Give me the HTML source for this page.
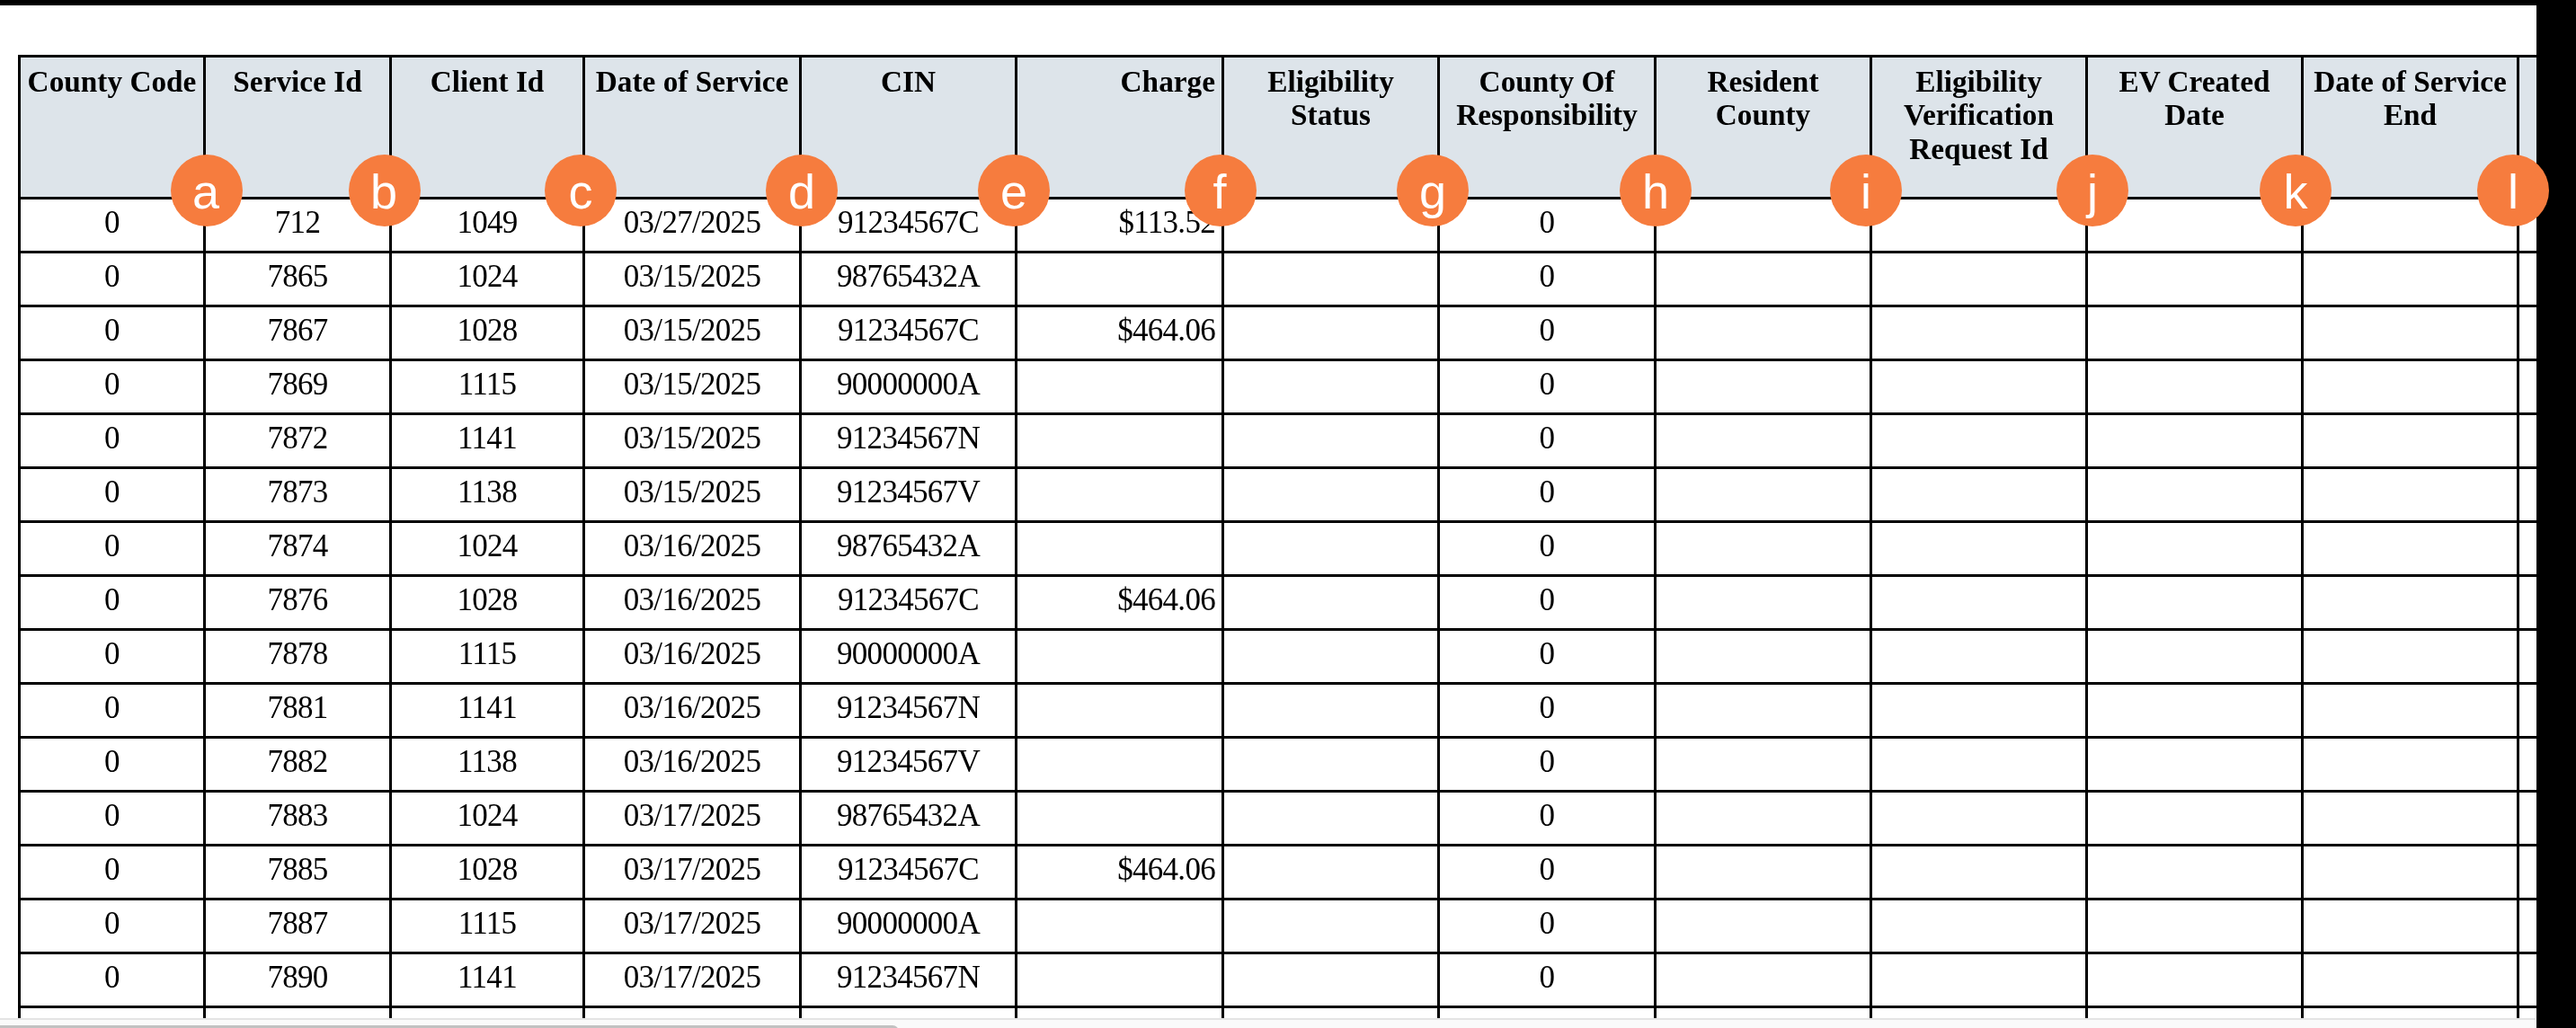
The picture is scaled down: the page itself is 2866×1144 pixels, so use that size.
<!DOCTYPE html>
<html><head><meta charset="utf-8"><title>Table</title>
<style>
html,body{margin:0;padding:0;background:#fff;}
body{width:2866px;height:1144px;overflow:hidden;position:relative;}
.a{position:absolute;}
.ln{position:absolute;background:#000;}
.ht{position:absolute;font-family:"Liberation Serif",serif;font-weight:bold;font-size:33.3px;line-height:38px;color:#000;white-space:nowrap;}
.dt{position:absolute;font-family:"Liberation Serif",serif;font-weight:normal;font-size:35px;line-height:40px;letter-spacing:-0.7px;color:#000;white-space:nowrap;}
.c{text-align:center;}
.r{text-align:right;}
.ci{position:absolute;width:80px;height:80px;border-radius:50%;background:#f67c3e;}
.cl{position:absolute;will-change:transform;width:80px;text-align:center;font-family:"Liberation Sans",sans-serif;font-size:54px;line-height:62px;color:#fff;}
</style></head><body>

<div class="a" style="left:0;top:0;width:2822px;height:1133px;overflow:hidden;will-change:transform">
<div class="a" style="left:20px;top:61px;width:2802px;height:161px;background:#dde4ea"></div>
<div class="ht c" style="left:23px;top:71.60px;width:203px;">County Code</div>
<div class="ht c" style="left:229px;top:71.60px;width:204px;">Service Id</div>
<div class="ht c" style="left:436px;top:71.60px;width:212px;">Client Id</div>
<div class="ht c" style="left:651px;top:71.60px;width:238px;">Date of Service</div>
<div class="ht c" style="left:892px;top:71.60px;width:237px;">CIN</div>
<div class="ht r" style="left:1132px;top:71.60px;width:220px;">Charge</div>
<div class="ht c" style="left:1362px;top:71.60px;width:237px;">Eligibility</div>
<div class="ht c" style="left:1362px;top:109.25px;width:237px;">Status</div>
<div class="ht c" style="left:1602px;top:71.60px;width:238px;">County Of</div>
<div class="ht c" style="left:1602px;top:109.25px;width:238px;">Responsibility</div>
<div class="ht c" style="left:1843px;top:71.60px;width:237px;">Resident</div>
<div class="ht c" style="left:1843px;top:109.25px;width:237px;">County</div>
<div class="ht c" style="left:2083px;top:71.60px;width:237px;">Eligibility</div>
<div class="ht c" style="left:2083px;top:109.25px;width:237px;">Verification</div>
<div class="ht c" style="left:2083px;top:146.90px;width:237px;">Request Id</div>
<div class="ht c" style="left:2323px;top:71.60px;width:237px;">EV Created</div>
<div class="ht c" style="left:2323px;top:109.25px;width:237px;">Date</div>
<div class="ht c" style="left:2563px;top:71.60px;width:237px;">Date of Service</div>
<div class="ht c" style="left:2563px;top:109.25px;width:237px;">End</div>
<div class="dt c" style="left:23px;top:228.0px;width:203px;">0</div>
<div class="dt c" style="left:229px;top:228.0px;width:204px;">712</div>
<div class="dt c" style="left:436px;top:228.0px;width:212px;">1049</div>
<div class="dt c" style="left:651px;top:228.0px;width:238px;">03/27/2025</div>
<div class="dt c" style="left:892px;top:228.0px;width:237px;">91234567C</div>
<div class="dt r" style="left:1132px;top:228.0px;width:220px;">$113.52</div>
<div class="dt c" style="left:1602px;top:228.0px;width:238px;">0</div>
<div class="dt c" style="left:23px;top:288.0px;width:203px;">0</div>
<div class="dt c" style="left:229px;top:288.0px;width:204px;">7865</div>
<div class="dt c" style="left:436px;top:288.0px;width:212px;">1024</div>
<div class="dt c" style="left:651px;top:288.0px;width:238px;">03/15/2025</div>
<div class="dt c" style="left:892px;top:288.0px;width:237px;">98765432A</div>
<div class="dt c" style="left:1602px;top:288.0px;width:238px;">0</div>
<div class="dt c" style="left:23px;top:348.0px;width:203px;">0</div>
<div class="dt c" style="left:229px;top:348.0px;width:204px;">7867</div>
<div class="dt c" style="left:436px;top:348.0px;width:212px;">1028</div>
<div class="dt c" style="left:651px;top:348.0px;width:238px;">03/15/2025</div>
<div class="dt c" style="left:892px;top:348.0px;width:237px;">91234567C</div>
<div class="dt r" style="left:1132px;top:348.0px;width:220px;">$464.06</div>
<div class="dt c" style="left:1602px;top:348.0px;width:238px;">0</div>
<div class="dt c" style="left:23px;top:408.0px;width:203px;">0</div>
<div class="dt c" style="left:229px;top:408.0px;width:204px;">7869</div>
<div class="dt c" style="left:436px;top:408.0px;width:212px;">1115</div>
<div class="dt c" style="left:651px;top:408.0px;width:238px;">03/15/2025</div>
<div class="dt c" style="left:892px;top:408.0px;width:237px;">90000000A</div>
<div class="dt c" style="left:1602px;top:408.0px;width:238px;">0</div>
<div class="dt c" style="left:23px;top:468.0px;width:203px;">0</div>
<div class="dt c" style="left:229px;top:468.0px;width:204px;">7872</div>
<div class="dt c" style="left:436px;top:468.0px;width:212px;">1141</div>
<div class="dt c" style="left:651px;top:468.0px;width:238px;">03/15/2025</div>
<div class="dt c" style="left:892px;top:468.0px;width:237px;">91234567N</div>
<div class="dt c" style="left:1602px;top:468.0px;width:238px;">0</div>
<div class="dt c" style="left:23px;top:528.0px;width:203px;">0</div>
<div class="dt c" style="left:229px;top:528.0px;width:204px;">7873</div>
<div class="dt c" style="left:436px;top:528.0px;width:212px;">1138</div>
<div class="dt c" style="left:651px;top:528.0px;width:238px;">03/15/2025</div>
<div class="dt c" style="left:892px;top:528.0px;width:237px;">91234567V</div>
<div class="dt c" style="left:1602px;top:528.0px;width:238px;">0</div>
<div class="dt c" style="left:23px;top:588.0px;width:203px;">0</div>
<div class="dt c" style="left:229px;top:588.0px;width:204px;">7874</div>
<div class="dt c" style="left:436px;top:588.0px;width:212px;">1024</div>
<div class="dt c" style="left:651px;top:588.0px;width:238px;">03/16/2025</div>
<div class="dt c" style="left:892px;top:588.0px;width:237px;">98765432A</div>
<div class="dt c" style="left:1602px;top:588.0px;width:238px;">0</div>
<div class="dt c" style="left:23px;top:648.0px;width:203px;">0</div>
<div class="dt c" style="left:229px;top:648.0px;width:204px;">7876</div>
<div class="dt c" style="left:436px;top:648.0px;width:212px;">1028</div>
<div class="dt c" style="left:651px;top:648.0px;width:238px;">03/16/2025</div>
<div class="dt c" style="left:892px;top:648.0px;width:237px;">91234567C</div>
<div class="dt r" style="left:1132px;top:648.0px;width:220px;">$464.06</div>
<div class="dt c" style="left:1602px;top:648.0px;width:238px;">0</div>
<div class="dt c" style="left:23px;top:708.0px;width:203px;">0</div>
<div class="dt c" style="left:229px;top:708.0px;width:204px;">7878</div>
<div class="dt c" style="left:436px;top:708.0px;width:212px;">1115</div>
<div class="dt c" style="left:651px;top:708.0px;width:238px;">03/16/2025</div>
<div class="dt c" style="left:892px;top:708.0px;width:237px;">90000000A</div>
<div class="dt c" style="left:1602px;top:708.0px;width:238px;">0</div>
<div class="dt c" style="left:23px;top:768.0px;width:203px;">0</div>
<div class="dt c" style="left:229px;top:768.0px;width:204px;">7881</div>
<div class="dt c" style="left:436px;top:768.0px;width:212px;">1141</div>
<div class="dt c" style="left:651px;top:768.0px;width:238px;">03/16/2025</div>
<div class="dt c" style="left:892px;top:768.0px;width:237px;">91234567N</div>
<div class="dt c" style="left:1602px;top:768.0px;width:238px;">0</div>
<div class="dt c" style="left:23px;top:828.0px;width:203px;">0</div>
<div class="dt c" style="left:229px;top:828.0px;width:204px;">7882</div>
<div class="dt c" style="left:436px;top:828.0px;width:212px;">1138</div>
<div class="dt c" style="left:651px;top:828.0px;width:238px;">03/16/2025</div>
<div class="dt c" style="left:892px;top:828.0px;width:237px;">91234567V</div>
<div class="dt c" style="left:1602px;top:828.0px;width:238px;">0</div>
<div class="dt c" style="left:23px;top:888.0px;width:203px;">0</div>
<div class="dt c" style="left:229px;top:888.0px;width:204px;">7883</div>
<div class="dt c" style="left:436px;top:888.0px;width:212px;">1024</div>
<div class="dt c" style="left:651px;top:888.0px;width:238px;">03/17/2025</div>
<div class="dt c" style="left:892px;top:888.0px;width:237px;">98765432A</div>
<div class="dt c" style="left:1602px;top:888.0px;width:238px;">0</div>
<div class="dt c" style="left:23px;top:948.0px;width:203px;">0</div>
<div class="dt c" style="left:229px;top:948.0px;width:204px;">7885</div>
<div class="dt c" style="left:436px;top:948.0px;width:212px;">1028</div>
<div class="dt c" style="left:651px;top:948.0px;width:238px;">03/17/2025</div>
<div class="dt c" style="left:892px;top:948.0px;width:237px;">91234567C</div>
<div class="dt r" style="left:1132px;top:948.0px;width:220px;">$464.06</div>
<div class="dt c" style="left:1602px;top:948.0px;width:238px;">0</div>
<div class="dt c" style="left:23px;top:1008.0px;width:203px;">0</div>
<div class="dt c" style="left:229px;top:1008.0px;width:204px;">7887</div>
<div class="dt c" style="left:436px;top:1008.0px;width:212px;">1115</div>
<div class="dt c" style="left:651px;top:1008.0px;width:238px;">03/17/2025</div>
<div class="dt c" style="left:892px;top:1008.0px;width:237px;">90000000A</div>
<div class="dt c" style="left:1602px;top:1008.0px;width:238px;">0</div>
<div class="dt c" style="left:23px;top:1068.0px;width:203px;">0</div>
<div class="dt c" style="left:229px;top:1068.0px;width:204px;">7890</div>
<div class="dt c" style="left:436px;top:1068.0px;width:212px;">1141</div>
<div class="dt c" style="left:651px;top:1068.0px;width:238px;">03/17/2025</div>
<div class="dt c" style="left:892px;top:1068.0px;width:237px;">91234567N</div>
<div class="dt c" style="left:1602px;top:1068.0px;width:238px;">0</div>
<div class="ln" style="left:20px;top:61px;width:2802px;height:3px"></div>
<div class="ln" style="left:20px;top:219px;width:2802px;height:3px"></div>
<div class="ln" style="left:20px;top:279px;width:2802px;height:3px"></div>
<div class="ln" style="left:20px;top:339px;width:2802px;height:3px"></div>
<div class="ln" style="left:20px;top:399px;width:2802px;height:3px"></div>
<div class="ln" style="left:20px;top:459px;width:2802px;height:3px"></div>
<div class="ln" style="left:20px;top:519px;width:2802px;height:3px"></div>
<div class="ln" style="left:20px;top:579px;width:2802px;height:3px"></div>
<div class="ln" style="left:20px;top:639px;width:2802px;height:3px"></div>
<div class="ln" style="left:20px;top:699px;width:2802px;height:3px"></div>
<div class="ln" style="left:20px;top:759px;width:2802px;height:3px"></div>
<div class="ln" style="left:20px;top:819px;width:2802px;height:3px"></div>
<div class="ln" style="left:20px;top:879px;width:2802px;height:3px"></div>
<div class="ln" style="left:20px;top:939px;width:2802px;height:3px"></div>
<div class="ln" style="left:20px;top:999px;width:2802px;height:3px"></div>
<div class="ln" style="left:20px;top:1059px;width:2802px;height:3px"></div>
<div class="ln" style="left:20px;top:1119px;width:2802px;height:3px"></div>
<div class="ln" style="left:20px;top:61px;width:3px;height:1072px"></div>
<div class="ln" style="left:226px;top:61px;width:3px;height:1072px"></div>
<div class="ln" style="left:433px;top:61px;width:3px;height:1072px"></div>
<div class="ln" style="left:648px;top:61px;width:3px;height:1072px"></div>
<div class="ln" style="left:889px;top:61px;width:3px;height:1072px"></div>
<div class="ln" style="left:1129px;top:61px;width:3px;height:1072px"></div>
<div class="ln" style="left:1359px;top:61px;width:3px;height:1072px"></div>
<div class="ln" style="left:1599px;top:61px;width:3px;height:1072px"></div>
<div class="ln" style="left:1840px;top:61px;width:3px;height:1072px"></div>
<div class="ln" style="left:2080px;top:61px;width:3px;height:1072px"></div>
<div class="ln" style="left:2320px;top:61px;width:3px;height:1072px"></div>
<div class="ln" style="left:2560px;top:61px;width:3px;height:1072px"></div>
<div class="ln" style="left:2800px;top:61px;width:3px;height:1072px"></div>
</div>
<div class="a" style="left:0;top:1133px;width:2821px;height:11px;background:#fafafa;border-top:2px solid #e4e4e4;box-sizing:border-box"></div>
<div class="a" style="left:0;top:1141px;width:1000px;height:14px;background:#c1c1c1;border-radius:0 8px 8px 0"></div>
<div class="a" style="left:0;top:0;width:2866px;height:6px;background:#000"></div>
<div class="a" style="left:2822px;top:0;width:44px;height:1144px;background:#000"></div>
<div class="ci" style="left:190px;top:172px"></div>
<div class="cl" style="left:188.5px;top:182px">a</div>
<div class="ci" style="left:388px;top:172px"></div>
<div class="cl" style="left:387.0px;top:182px">b</div>
<div class="ci" style="left:606px;top:172px"></div>
<div class="cl" style="left:605.5px;top:182px">c</div>
<div class="ci" style="left:852px;top:172px"></div>
<div class="cl" style="left:852.0px;top:182px">d</div>
<div class="ci" style="left:1088px;top:172px"></div>
<div class="cl" style="left:1087.5px;top:182px">e</div>
<div class="ci" style="left:1318px;top:172px"></div>
<div class="cl" style="left:1317.0px;top:182px">f</div>
<div class="ci" style="left:1554px;top:172px"></div>
<div class="cl" style="left:1554.0px;top:182px">g</div>
<div class="ci" style="left:1802px;top:172px"></div>
<div class="cl" style="left:1802.0px;top:182px">h</div>
<div class="ci" style="left:2036px;top:172px"></div>
<div class="cl" style="left:2036.0px;top:182px">i</div>
<div class="ci" style="left:2288px;top:172px"></div>
<div class="cl" style="left:2288.0px;top:182px">j</div>
<div class="ci" style="left:2514px;top:172px"></div>
<div class="cl" style="left:2514.0px;top:182px">k</div>
<div class="ci" style="left:2756px;top:172px"></div>
<div class="cl" style="left:2756.0px;top:182px">l</div>
</body></html>
